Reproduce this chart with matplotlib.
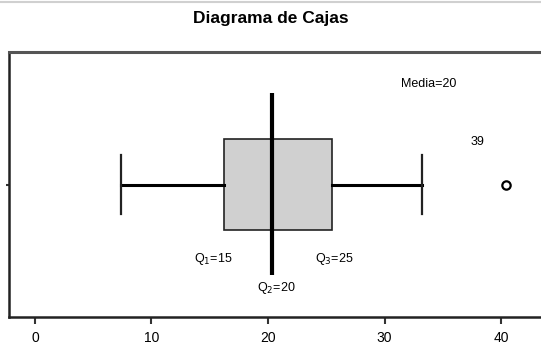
import matplotlib
matplotlib.use("Agg")
import matplotlib.pyplot as plt
from matplotlib.lines import Line2D

# valores (posiciones dibujadas)
bigote_inf = 7.4
q1 = 16.2
mediana = 20.3
q3 = 25.5
bigote_sup = 33.2
atipicos = [40.4]

etiquetas = ["Q$_1$=15", "Q$_2$=20", "Q$_3$=25", "Media=20", "39"]
pos_x = [15.3, 20.7, 25.7, 33.8, 38.0]
pos_y = [0.72, 0.61, 0.72, 1.38, 1.16]
ticks_x = [0, 10, 20, 30, 40]

plt.rcParams['font.family'] = ['Liberation Sans Narrow', 'Liberation Sans', 'DejaVu Sans']
plt.rcParams['mathtext.fontset'] = 'custom'
plt.rcParams['mathtext.rm'] = 'Liberation Sans Narrow'

fig = plt.figure(figsize=(5.41, 3.52), dpi=100)
fig.add_artist(Line2D([0, 1], [0.993, 0.993], color='#d0d0d0', lw=1.5))
fig.text(0.5, 1 - 19 / 352, 'Diagrama de Cajas', ha='center', va='center',
         fontsize=12.5, fontweight='bold', family=['Liberation Sans', 'DejaVu Sans'])

ax = fig.add_axes([9 / 541, 35 / 352, 1 - 9 / 541, 265 / 352])

stats = [{'whislo': bigote_inf, 'q1': q1, 'med': mediana, 'q3': q3,
          'whishi': bigote_sup, 'fliers': atipicos}]
ax.bxp(stats, positions=[1], widths=0.343, vert=False, patch_artist=True,
       showcaps=True, capwidths=0.223,
       boxprops=dict(facecolor='#d0d0d0', edgecolor='#222222', linewidth=1.2),
       whiskerprops=dict(color='black', linewidth=2.2),
       capprops=dict(color='#222222', linewidth=1.6),
       medianprops=dict(linewidth=0),
       flierprops=dict(marker='o', markerfacecolor='none', markeredgecolor='black',
                       markersize=6, markeredgewidth=1.6))
ax.plot([mediana, mediana], [0.658, 1.345], color='black', linewidth=3, solid_capstyle='butt')

for txt, x, y in zip(etiquetas, pos_x, pos_y):
    ax.text(x, y, txt, ha='center', va='center', fontsize=9)

ax.set_xlim(-2.23, 43.43)
ax.set_ylim(0.5, 1.5)
ax.set_xticks(ticks_x)
ax.set_xticklabels([str(t) for t in ticks_x], fontsize=10)
ax.set_yticks([1])
ax.set_yticklabels([''])
ax.tick_params(axis='x', length=5, width=1.5, color='#333333', pad=5)
ax.tick_params(axis='y', length=2.5, width=1.5, color='#333333')
ax.spines['right'].set_visible(False)
for s in ['left', 'bottom']:
    ax.spines[s].set_linewidth(1.8)
    ax.spines[s].set_color('#222222')
ax.spines['top'].set_linewidth(2.2)
ax.spines['top'].set_color('#555555')

fig.savefig('out.png', dpi=100)
